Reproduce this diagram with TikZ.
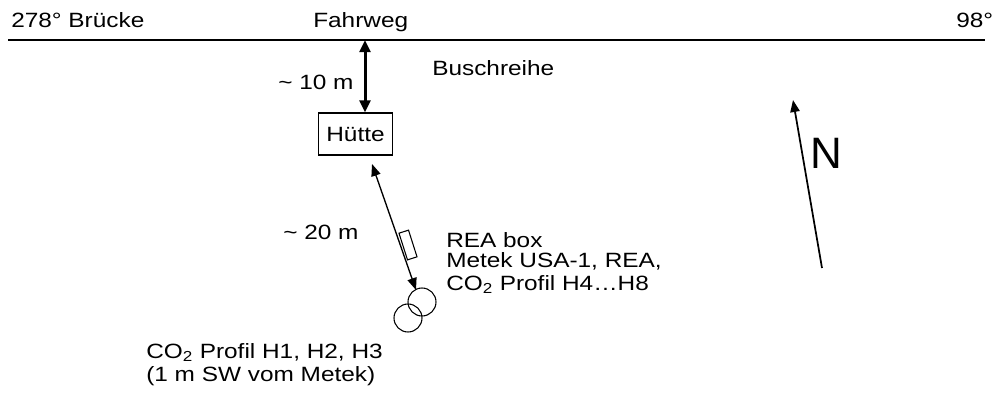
\documentclass[tikz,border=0pt]{standalone}
\usepackage{fontspec}
\setmainfont{Liberation Sans}[FakeStretch=1.18]
\newfontfamily\nfont{Liberation Sans}
\usetikzlibrary{arrows.meta}
\begin{document}
\begin{tikzpicture}[x=0.75pt,y=-0.75pt,
  lbl/.style={anchor=base west,inner sep=0pt,font=\fontsize{15.5pt}{17.25pt}\selectfont,align=left},
  thickarrow/.style={line width=2.25pt,{Triangle[length=9pt,width=8pt]}-{Triangle[length=9pt,width=8pt]}},
  thinarrow/.style={line width=1pt,{Triangle[length=9pt,width=7pt]}-{Triangle[length=9pt,width=7pt]}},
  northarrow/.style={line width=1.3pt,-{Triangle[length=9pt,width=7pt]}},
  ring/.style={draw,circle,line width=0.8pt,minimum size=21pt,inner sep=0pt}]
\useasboundingbox (0,0) rectangle (1004,394);
% road
\coordinate (roadL) at (8,40);
\coordinate (roadR) at (985,40);
\draw[line width=1.2pt] (roadL) -- (roadR);
\node[lbl] (bruecke) at (11,27) {278° Brücke};
\node[lbl] (fahrweg) at (313,27) {Fahrweg};
\node[lbl] (deg98) at (956,27) {98°};
\node[lbl] (busch) at (432,75) {Buschreihe};
% hut
\node[draw,line width=0.8pt,minimum width=56pt,minimum height=31.5pt,inner sep=0pt,
      font=\fontsize{15.5pt}{17.25pt}\selectfont] (hut) at (355.5,134) {Hütte};
\coordinate (roadA) at (365,40);
\draw[thickarrow] (roadA) -- (hut.north -| roadA);
\node[lbl] (d10) at (278,89) {\textasciitilde\ 10 m};
% REA box and sensors
\coordinate (hutB) at (372,164);
\node[ring] (m1) at (422,302) {};
\node[ring] (m2) at (408,318) {};
\coordinate (m1top) at (416,290);
\draw[thinarrow] (hutB) -- (m1top);
\node[draw,line width=0.8pt,minimum width=21pt,minimum height=7.5pt,inner sep=0pt,rotate=-72.3] (rea) at (408,245) {};
\node[lbl] (d20) at (283,239) {\textasciitilde\ 20 m};
\node[lbl] (realbl) at (446,247) {REA box};
\node[lbl,anchor=north west] (meteklbl) at (446,252) {Metek USA-1, REA,\\CO\textsubscript{2} Profil H4…H8};
\node[lbl,anchor=north west] (co2lbl) at (146,343) {CO\textsubscript{2} Profil H1, H2, H3\\(1 m SW vom Metek)};
% north arrow
\coordinate (nbot) at (822,268);
\coordinate (ntop) at (793,100);
\draw[northarrow] (nbot) -- (ntop);
\node[anchor=base west,inner sep=0pt,font=\nfont\fontsize{33pt}{33pt}\selectfont] (nlbl) at (810,168) {N};
\end{tikzpicture}
\end{document}
